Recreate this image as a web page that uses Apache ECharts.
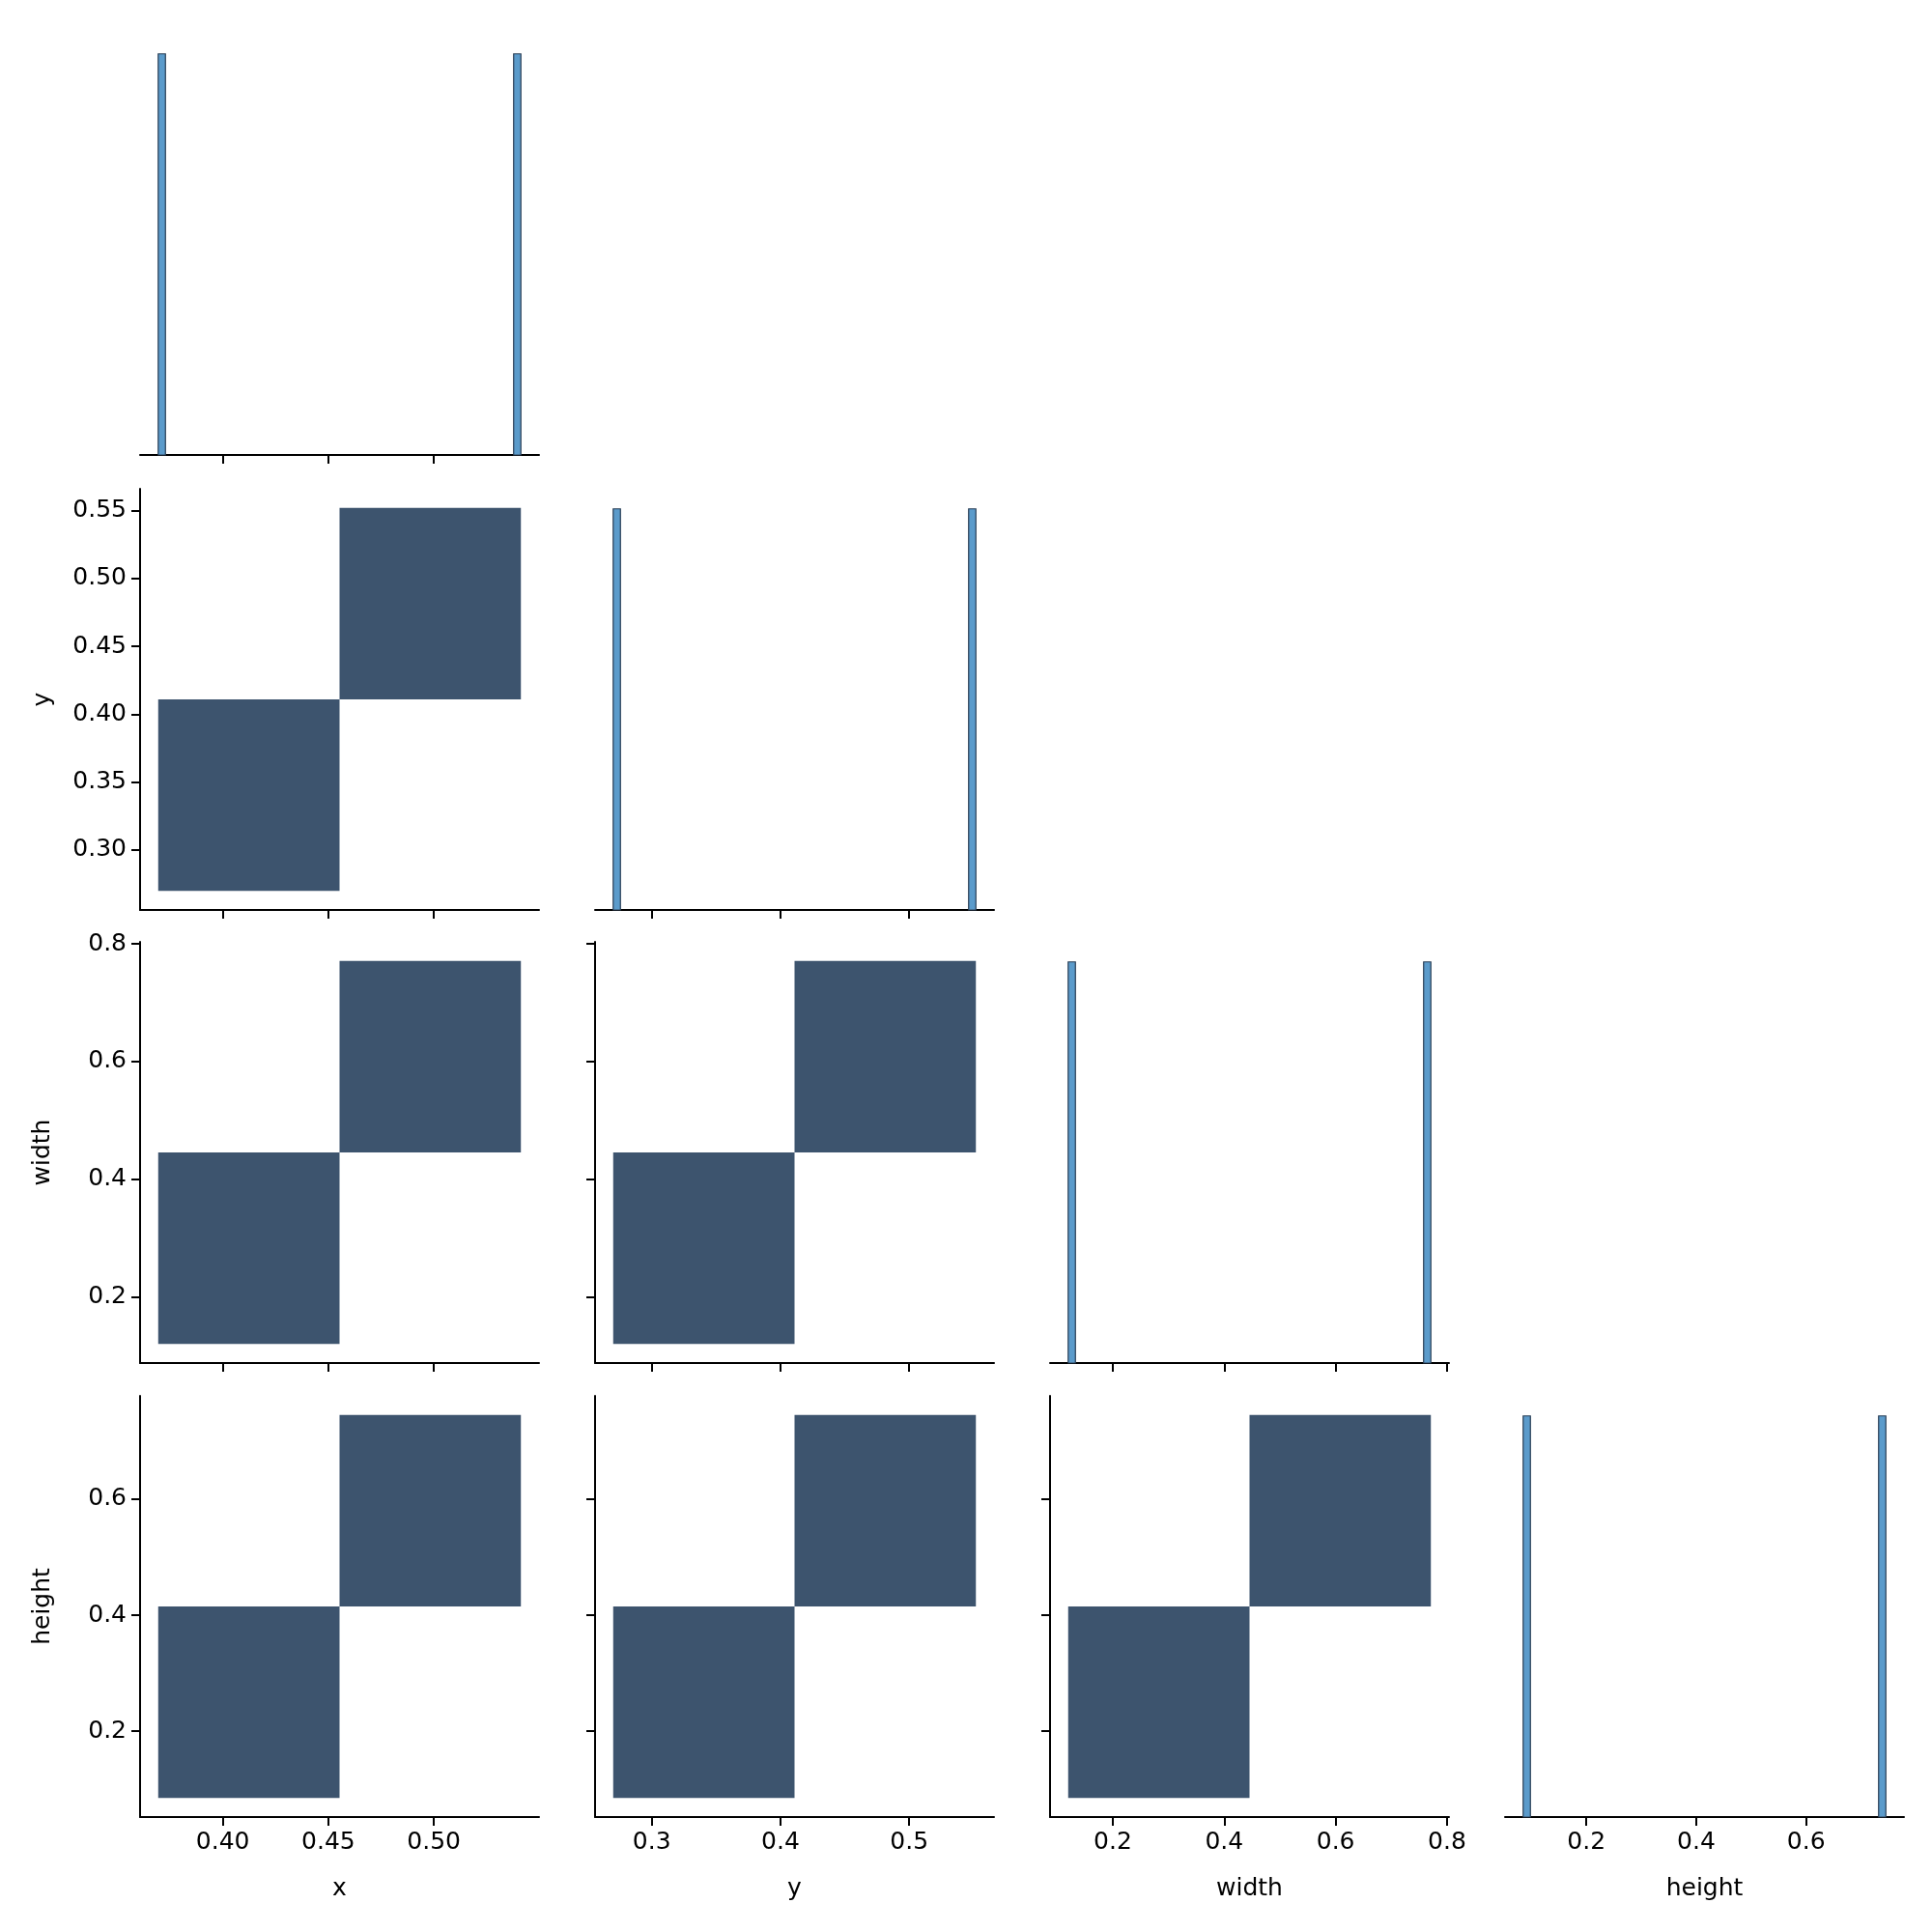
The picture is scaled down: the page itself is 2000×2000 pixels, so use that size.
<!DOCTYPE html>
<html><head><meta charset="utf-8">
<script src="https://cdn.jsdelivr.net/npm/echarts@6/dist/echarts.min.js"></script>
<style>html,body{margin:0;background:#fff}#c{width:2000px;height:2000px}</style>
</head><body><div id="c"></div>
<script>
const varNames = ['x', 'y', 'width', 'height'];
const xVals = [0.3694, 0.5412];
const yVals = [0.2700, 0.5518];
const widthVals = [0.1200, 0.7710];
const heightVals = [0.0850, 0.7450];
const xTicks = [0.40, 0.45, 0.50, 0.55];
const yTicks = [0.30, 0.35, 0.40, 0.45, 0.50, 0.55];
const yTicksX = [0.3, 0.4, 0.5];
const widthTicks = [0.2, 0.4, 0.6, 0.8];
const heightTicks = [0.2, 0.4, 0.6];

const vals = [xVals, yVals, widthVals, heightVals];
const rowTicks = [null, yTicks, widthTicks, heightTicks];
const colTicks = [xTicks, yTicksX, widthTicks, heightTicks];
const rowDec = [2, 2, 1, 1];
const colDec = [2, 1, 1, 1];
const HIST_BINS = 50;

function rng(a){const mn=Math.min(...a),mx=Math.max(...a),p=(mx-mn)*0.05;return [mn-p,mx+p];}
const ranges = vals.map(rng);

const lefts=[145,616,1087,1558], tops=[35,506,975,1445], W=413, H=436;
const font = 'DejaVu Sans';
const grids=[],xAxes=[],yAxes=[],series=[];
const lineStyle={color:'#000',width:2};

function rectItem(params, api){
  const p0=api.coord([api.value(0),api.value(2)]);
  const p1=api.coord([api.value(1),api.value(3)]);
  const s=api.style();
  return {type:'rect',shape:{x:Math.min(p0[0],p1[0]),y:Math.min(p0[1],p1[1]),width:Math.abs(p1[0]-p0[0]),height:Math.abs(p1[1]-p0[1])},style:s};
}

let g=0;
for(let r=0;r<4;r++){
  for(let c=0;c<=r;c++){
    grids.push({left:lefts[c],top:tops[r],width:W,height:H});
    const bottom = r===3;
    xAxes.push({gridIndex:g,type:'value',min:ranges[c][0],max:ranges[c][1],
      axisLine:{show:true,lineStyle},splitLine:{show:false},
      axisTick:{show:true,customValues:colTicks[c],length:9,lineStyle},
      axisLabel:{show:bottom,customValues:colTicks[c],formatter:v=>v.toFixed(colDec[c]),fontSize:25,color:'#000',fontFamily:font,margin:14},
      name:bottom?varNames[c]:'',nameLocation:'middle',nameGap:62,nameTextStyle:{fontSize:25,color:'#000',fontFamily:font}});
    if(r===c){
      yAxes.push({gridIndex:g,type:'value',min:0,max:1.05,show:false});
      const v=vals[c],mn=Math.min(...v),mx=Math.max(...v),bw=(mx-mn)/HIST_BINS;
      const counts=new Array(HIST_BINS).fill(0);
      v.forEach(d=>{let i=Math.floor((d-mn)/bw);if(i>=HIST_BINS)i=HIST_BINS-1;counts[i]++;});
      const data=[];counts.forEach((n,i)=>{if(n>0)data.push([mn+i*bw,mn+(i+1)*bw,0,n]);});
      series.push({type:'custom',xAxisIndex:g,yAxisIndex:g,renderItem:rectItem,data,
        itemStyle:{color:'#5b9bcb',borderColor:'#2b3f55',borderWidth:1.2},encode:{x:[0,1],y:[2,3]}});
    } else {
      yAxes.push({gridIndex:g,type:'value',min:ranges[r][0],max:ranges[r][1],
        axisLine:{show:true,lineStyle},splitLine:{show:false},
        axisTick:{show:true,customValues:rowTicks[r],length:9,lineStyle},
        axisLabel:{show:c===0,customValues:rowTicks[r],formatter:v=>v.toFixed(rowDec[r]),fontSize:25,color:'#000',fontFamily:font,margin:14},
        name:c===0?varNames[r]:'',nameLocation:'middle',nameGap:88,nameRotate:90,nameTextStyle:{fontSize:25,color:'#000',fontFamily:font}});
      const xv=vals[c],yv=vals[r];
      const xmn=Math.min(...xv),xmx=Math.max(...xv),ymn=Math.min(...yv),ymx=Math.max(...yv);
      const xe=[xmn,(xmn+xmx)/2,xmx],ye=[ymn,(ymn+ymx)/2,ymx];
      const cnt=[[0,0],[0,0]];
      xv.forEach((d,k)=>{const i=d<xe[1]?0:1;const j=yv[k]<ye[1]?0:1;cnt[i][j]++;});
      const data=[];
      for(let i=0;i<2;i++)for(let j=0;j<2;j++)if(cnt[i][j]>0)data.push([xe[i],xe[i+1],ye[j],ye[j+1]]);
      series.push({type:'custom',xAxisIndex:g,yAxisIndex:g,renderItem:rectItem,data,
        itemStyle:{color:'#3d546e'},encode:{x:[0,1],y:[2,3]}});
    }
    g++;
  }
}
const chart=echarts.init(document.getElementById('c'),null,{renderer:'canvas'});
chart.setOption({backgroundColor:'#fff',animation:false,grid:grids,xAxis:xAxes,yAxis:yAxes,series});
</script></body></html>
